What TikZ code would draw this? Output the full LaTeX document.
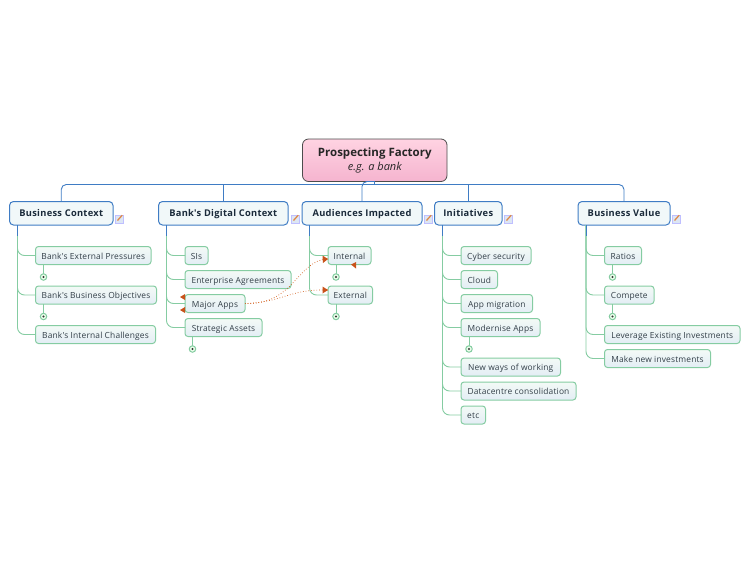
\documentclass[tikz,border=0pt]{standalone}
\usepackage{fontspec}
\setmainfont{Open Sans}
\newfontfamily\mainf[LetterSpace=3.2]{Open Sans}
\newfontfamily\kidf[LetterSpace=2]{Open Sans}
\usetikzlibrary{arrows.meta,calc}
\definecolor{bluel}{HTML}{3F7CC4}
\definecolor{greenl}{HTML}{85CCA2}
\definecolor{relc}{HTML}{C9521A}
\definecolor{roota}{HTML}{FFD3E2}
\definecolor{rootb}{HTML}{F5B4CF}
\definecolor{maintxt}{HTML}{1A2A3A}
\definecolor{kidtxt}{HTML}{333F48}
\definecolor{maina}{HTML}{F1F8F9}
\definecolor{kida}{HTML}{F3FAF6}
\definecolor{kidb}{HTML}{E3EDF5}
\definecolor{pencil}{HTML}{DE8A4A}
\definecolor{notebg}{HTML}{DCE6F4}
\tikzset{
  x=1pt,y=-1pt,
  rootbox/.style={draw=black!70,line width=.8pt,outer sep=0pt,rounded corners=6pt,top color=roota,bottom color=rootb,anchor=north west,align=center,inner sep=0pt,text=black!85},
  mainbox/.style={draw=bluel,line width=1pt,outer sep=0pt,rounded corners=4pt,fill=maina,anchor=north west,inner sep=0pt,text height=8pt,text depth=1.5pt,font=\fontsize{9.3}{11}\selectfont\mainf\bfseries,text=maintxt},
  kidbox/.style={draw=greenl,line width=1pt,outer sep=0pt,rounded corners=3pt,top color=kida,bottom color=kidb,anchor=north west,inner sep=0pt,text height=8pt,text depth=1pt,font=\fontsize{8.4}{10}\selectfont\kidf,text=kidtxt},
  trunk/.style={draw=bluel,line width=1pt},
  kid/.style={draw=greenl,line width=.9pt,rounded corners=7pt},
  bar/.style={draw=bluel,line width=.9pt,rounded corners=5pt},
  folder/.style={circle,draw=greenl,fill=green!8,line width=1pt,minimum size=6.5pt,inner sep=0pt},
  stem/.style={draw=greenl,line width=.9pt},
  rel/.style={draw=relc!85!orange,line width=.7pt,dotted},
  note/.style={draw=blue!25,fill=notebg,minimum size=7.5pt,inner sep=0pt,line width=.5pt},
}
\newcommand{\bx}[7]{\node[#1,minimum width=#5pt-#3pt,minimum height=#6pt-#4pt] (#2) at (#3,#4) {#7};}
\newcommand{\kbx}[5]{\node[kidbox,minimum width=#3pt-#2pt,minimum height=18pt,anchor=north west] (#1) at (#2,#4) {#5};}
\newcommand{\fold}[3]{\draw[stem] (#2,#3) -- (#2,#3 |- #1.south); \node[folder] (#1f) at (#2,#3) {}; \fill[black!80] (#2,#3) circle (1.2pt);}
\newcommand{\notei}[3]{\node[note] (#1) at (#2,#3) {};
  \draw[pencil,line width=1.3pt] ($(#1)+(-1.5,1.5)$) -- ($(#1)+(3.2,-3.8)$);}
\begin{document}
\begin{tikzpicture}
\useasboundingbox (0,0) rectangle (750,563);
% main bus
\coordinate (busR) at (624,184.5);
\bx{rootbox}{root}{302.5}{139}{447}{181.5}{\fontsize{11.5}{14}\selectfont\bfseries Prospecting Factory\\[2.5pt]\fontsize{11}{14}\selectfont\itshape e.g. a bank}
\bx{mainbox}{m1}{9.5}{201.5}{113}{225}{Business Context}
\bx{mainbox}{m2}{158.5}{201.5}{288}{225}{Bank's Digital Context}
\bx{mainbox}{m3}{302}{201.5}{422}{225}{Audiences Impacted}
\bx{mainbox}{m4}{434.5}{201.5}{502}{225}{Initiatives}
\bx{mainbox}{m5}{578}{201.5}{670}{225}{Business Value}
\draw[bar] (m1.north) |- (busR) -- (m5.north);
\draw[bar] (m2.north) -- (m2.north |- busR);
\draw[bar] (m3.north) |- (root.south);
\draw[bar] (m4.north) -- (m4.north |- busR);
\draw[bar,rounded corners=0] (root.south) -- (root.south |- busR);
% children
\kbx{a1}{35.5}{151}{246.5}{Bank's External Pressures}
\kbx{a2}{35.5}{156.5}{286}{Bank's Business Objectives}
\kbx{a3}{35.5}{155.5}{325.5}{Bank's Internal Challenges}
\kbx{b1}{185}{208}{246.5}{SIs}
\kbx{b2}{185}{291}{270.5}{Enterprise Agreements}
\kbx{b3}{185}{245}{294.5}{Major Apps}
\kbx{b4}{185}{262}{318.5}{Strategic Assets}
\kbx{c1}{328}{371}{246.5}{Internal}
\kbx{c2}{328}{372.5}{286}{External}
\kbx{d1}{461}{531}{246.5}{Cyber security}
\kbx{d2}{461}{497.5}{270.5}{Cloud}
\kbx{d3}{461}{532.5}{294.5}{App migration}
\kbx{d4}{461}{540}{318.5}{Modernise Apps}
\kbx{d5}{461}{560.5}{358}{New ways of working}
\kbx{d6}{461}{576}{382}{Datacentre consolidation}
\kbx{d7}{461}{485.5}{406}{etc}
\kbx{e1}{604.5}{641.5}{246.5}{Ratios}
\kbx{e2}{604.5}{654}{286}{Compete}
\kbx{e3}{604.5}{740}{325.5}{Leverage Existing Investments}
\kbx{e4}{604.5}{710.5}{349.5}{Make new investments}
% trunks
\coordinate (m1t) at (17.5,225);
\coordinate (m2t) at (166.5,225);
\coordinate (m3t) at (309.5,225);
\coordinate (m4t) at (442.5,225);
\coordinate (m5t) at (586,225);
\foreach \k in {a1,a2,a3}{\draw[kid] (m1t) |- (\k.west);}
\foreach \k in {b1,b2,b3,b4}{\draw[kid] (m2t) |- (\k.west);}
\foreach \k in {c1,c2}{\draw[kid] (m3t) |- (\k.west);}
\foreach \k in {d1,d2,d3,d4,d5,d6,d7}{\draw[kid] (m4t) |- (\k.west);}
\foreach \k in {e1,e2,e3,e4}{\draw[kid] (m5t) |- (\k.west);}
\foreach \m in {m1t,m2t,m3t,m4t,m5t}{\draw[trunk] (\m) -- ++(0,11);}
% folded markers
\fold{a1}{43.5}{277}
\fold{a2}{43.5}{316.5}
\fold{b4}{192.5}{349}
\fold{c1}{336}{277}
\fold{c2}{336}{316.5}
\fold{d4}{469}{349}
\fold{e1}{612.5}{277}
\fold{e2}{612.5}{316.5}
% notes
\notei{n1}{119}{219}
\notei{n2}{295}{219}
\notei{n3}{428}{219}
\notei{n4}{508}{219}
\notei{n5}{676}{219}
% relationships
\coordinate (c1in) at (328,259);
\coordinate (c2in) at (328,290);
\draw[rel] (b3.east) .. controls (295,305) and (297,260) .. (c1in);
\draw[rel] (b3.east) .. controls (285,302) and (288,289) .. (c2in);
\fill[relc] (328,259) -- (322.5,255.5) -- (323,263) -- cycle;
\fill[relc] (328,290) -- (322.5,286.5) -- (322.5,293.5) -- cycle;
\fill[relc] (180,297) -- (185,294) -- (185,300) -- cycle;
\fill[relc] (180,310) -- (185,307) -- (185,313) -- cycle;
\fill[relc] (351,264.5) -- (356,262) -- (356,268.5) -- cycle;
\end{tikzpicture}
\end{document}
